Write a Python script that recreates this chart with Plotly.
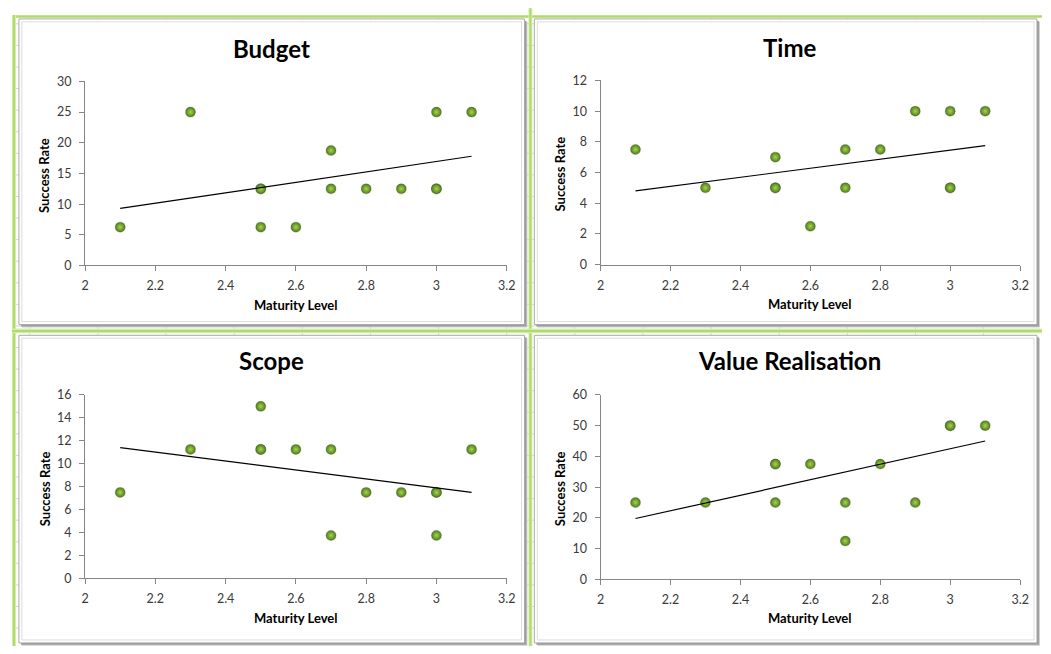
import plotly.graph_objects as go

# ---------------- data ----------------
x_ticks = [2.0, 2.2, 2.4, 2.6, 2.8, 3.0, 3.2]
x_tick_labels = ["2", "2.2", "2.4", "2.6", "2.8", "3", "3.2"]

budget_x = [2.1, 2.3, 2.5, 2.5, 2.5, 2.6, 2.7, 2.7, 2.8, 2.9, 3.0, 3.0, 3.0, 3.1]
budget_y = [6.25, 25, 12.5, 12.5, 6.25, 6.25, 18.75, 12.5, 12.5, 12.5, 25, 12.5, 12.5, 25]

time_x = [2.1, 2.3, 2.5, 2.5, 2.5, 2.6, 2.7, 2.7, 2.8, 2.9, 3.0, 3.0, 3.0, 3.1]
time_y = [7.5, 5, 7, 5, 5, 2.5, 7.5, 5, 7.5, 10, 10, 5, 5, 10]

scope_x = [2.1, 2.3, 2.5, 2.5, 2.5, 2.6, 2.7, 2.7, 2.8, 2.9, 3.0, 3.0, 3.0, 3.1]
scope_y = [7.5, 11.25, 15, 11.25, 11.25, 11.25, 11.25, 3.75, 7.5, 7.5, 7.5, 7.5, 3.75, 11.25]

value_x = [2.1, 2.3, 2.5, 2.5, 2.5, 2.6, 2.7, 2.7, 2.8, 2.9, 3.0, 3.0, 3.1]
value_y = [25, 25, 37.5, 37.5, 25, 37.5, 25, 12.5, 37.5, 25, 50, 50, 50]

trend_x = [2.1, 3.1]
budget_trend = [9.3, 17.8]
time_trend = [4.8, 7.75]
scope_trend = [11.4, 7.5]
value_trend = [19.8, 45.0]

titles = ["Budget", "Time", "Scope", "Value Realisation"]
y_ranges = [[0, 30], [0, 12], [0, 16], [0, 60]]
y_dticks = [5, 2, 2, 10]
x_title = "Maturity Level"
y_title = "Success Rate"

# ---------------- layout helpers (page pixel geometry) ----------------
PAGE_W, PAGE_H = 1051, 654
BODY_MARGIN = 8          # default HTML body margin around the plot div
W, H = PAGE_W - 2 * BODY_MARGIN, PAGE_H - 2 * BODY_MARGIN

def fx(p):
    return (p - BODY_MARGIN) / W
def fy(p):
    return 1 - (p - BODY_MARGIN) / H

FONT = "Lato, 'Open Sans', Arial, sans-serif"

# panels: (x0, y0, x1, y1) in page pixels
panels = [(15, 11, 527, 324), (537, 11, 1046, 324), (15, 335, 527, 650), (537, 335, 1046, 650)]
# plot areas: x pixel span, y pixel span (top, bottom)
plot_x = [(82, 509), (604, 1029), (82, 509), (604, 1029)]
plot_y = [(75, 263.5), (74, 262.5), (396, 584), (396, 585)]
title_pos = [(271, 41), (795, 40), (271, 361), (795, 361)]

series = [
    (budget_x, budget_y, budget_trend),
    (time_x, time_y, time_trend),
    (scope_x, scope_y, scope_trend),
    (value_x, value_y, value_trend),
]

fig = go.Figure()
shapes = []
annotations = []

# spreadsheet grid
gx = 26
while gx < PAGE_W:
    shapes.append(dict(type="line", xref="paper", yref="paper", x0=fx(gx), x1=fx(gx), y0=0, y1=1,
                       line=dict(color="#d6d6d6", width=1), layer="below"))
    gx += 69
gy = 16
while gy < PAGE_H:
    shapes.append(dict(type="line", xref="paper", yref="paper", x0=0, x1=1, y0=fy(gy), y1=fy(gy),
                       line=dict(color="#d6d6d6", width=1), layer="below"))
    gy += 22.1

# green selection bands
def band(x0, y0, x1, y1):
    shapes.append(dict(type="rect", xref="paper", yref="paper", x0=fx(x0), x1=fx(x1), y0=fy(y1), y1=fy(y0),
                       fillcolor="#d3ecad", line=dict(width=0), layer="below"))
    if (x1 - x0) > (y1 - y0):
        c = (y0 + y1) / 2
        shapes.append(dict(type="line", xref="paper", yref="paper", x0=fx(x0), x1=fx(x1), y0=fy(c), y1=fy(c),
                           line=dict(color="#b2da68", width=2), layer="below"))
    else:
        c = (x0 + x1) / 2
        shapes.append(dict(type="line", xref="paper", yref="paper", x0=fx(c), x1=fx(c), y0=fy(y1), y1=fy(y0),
                           line=dict(color="#b2da68", width=2), layer="below"))

band(8, 7, PAGE_W, 10)
band(8, 7, 12, PAGE_H)
band(531, 0, 535, PAGE_H)
band(8, 328, PAGE_W, 333)

# panels
for (x0, y0, x1, y1) in panels:
    shapes.append(dict(type="rect", xref="paper", yref="paper", x0=fx(x0 + 3), x1=fx(x1 + 3), y0=fy(y1 + 3), y1=fy(y0 + 3),
                       fillcolor="#cfcfcf", line=dict(width=0), layer="below"))
    shapes.append(dict(type="rect", xref="paper", yref="paper", x0=fx(x0 + 2), x1=fx(x1 + 2), y0=fy(y1 + 2), y1=fy(y0 + 2),
                       fillcolor="#9d9d9d", line=dict(width=0), layer="below"))
    shapes.append(dict(type="rect", xref="paper", yref="paper", x0=fx(x0), x1=fx(x1), y0=fy(y1), y1=fy(y0),
                       fillcolor="white", line=dict(color="#a9a9a9", width=1), layer="below"))
    shapes.append(dict(type="rect", xref="paper", yref="paper", x0=fx(x0 + 3), x1=fx(x1 - 3), y0=fy(y1 - 3), y1=fy(y0 + 3),
                       fillcolor="rgba(0,0,0,0)", line=dict(color="#dcdcdc", width=1), layer="below"))

layout_axes = {}
for i, ((sx, sy, st), title) in enumerate(zip(series, titles)):
    n = "" if i == 0 else str(i + 1)
    xa, ya = "x" + n, "y" + n
    fig.add_trace(go.Scatter(
        x=sx, y=sy, mode="markers", xaxis=xa, yaxis=ya, showlegend=False,
        marker=dict(size=10, color="#4f7e16",
                    gradient=dict(type="radial", color="#a6d451"),
                    line=dict(color="rgba(60,60,60,0.22)", width=1.2)),
        hoverinfo="x+y"))
    fig.add_trace(go.Scatter(
        x=trend_x, y=st, mode="lines", xaxis=xa, yaxis=ya, showlegend=False,
        line=dict(color="black", width=1.2), hoverinfo="skip"))

    px0, px1 = plot_x[i]
    pyt, pyb = plot_y[i]
    layout_axes["xaxis" + n] = dict(
        domain=[fx(px0), fx(px1)], range=[2, 3.2], anchor=ya,
        tickvals=x_ticks, ticktext=x_tick_labels,
        showline=True, linecolor="#868686", linewidth=1,
        ticks="outside", ticklen=5, tickcolor="#868686",
        showgrid=False, zeroline=False, ticklabelstandoff=4,
        tickfont=dict(family=FONT, size=12.5, color="#3a3a3a"))
    layout_axes["yaxis" + n] = dict(
        domain=[fy(pyb), fy(pyt)], range=y_ranges[i], anchor=xa, dtick=y_dticks[i],
        showline=True, linecolor="#868686", linewidth=1,
        ticks="outside", ticklen=5, tickcolor="#868686",
        showgrid=False, zeroline=False, ticklabelstandoff=5,
        tickfont=dict(family=FONT, size=12.5, color="#3a3a3a"))

    tx, ty = title_pos[i]
    annotations.append(dict(text="<b>" + title + "</b>", xref="paper", yref="paper", x=fx(tx), y=fy(ty),
                            xanchor="center", yanchor="middle", showarrow=False,
                            font=dict(family=FONT, size=24, color="black")))
    annotations.append(dict(text="<b>" + x_title + "</b>", xref="paper", yref="paper",
                            x=fx((px0 + px1) / 2), y=fy(pyb + 40),
                            xanchor="center", yanchor="middle", showarrow=False,
                            font=dict(family=FONT, size=13, color="black")))
    annotations.append(dict(text="<b>" + y_title + "</b>", xref="paper", yref="paper",
                            x=fx(px0 - 41), y=fy((pyt + pyb) / 2 + 2), textangle=-90,
                            xanchor="center", yanchor="middle", showarrow=False,
                            font=dict(family=FONT, size=13, color="black")))

fig.update_layout(
    width=W, height=H,
    margin=dict(l=0, r=0, t=0, b=0),
    paper_bgcolor="white", plot_bgcolor="rgba(0,0,0,0)",
    shapes=shapes, annotations=annotations,
    **layout_axes)

fig.write_html("out.html", config={"displayModeBar": False})
